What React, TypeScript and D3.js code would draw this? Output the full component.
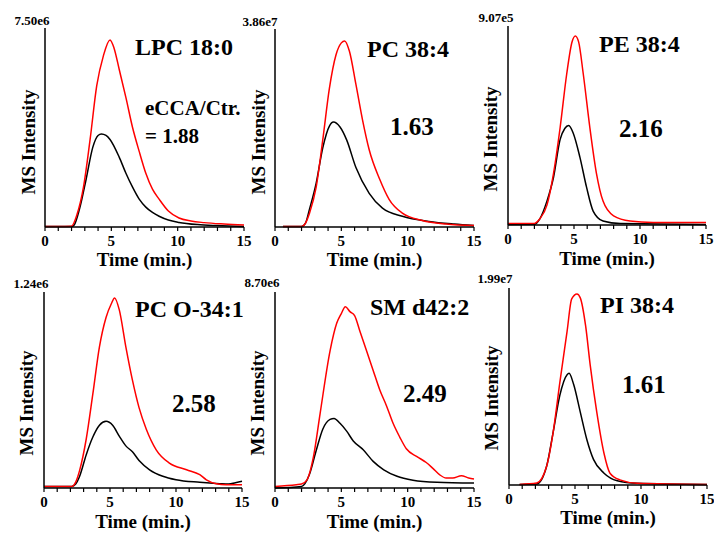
import React from "react";
import * as d3 from "d3";

// Each chromatogram: [time (min), intensity as % of the panel's full-scale value]
const titles = ["LPC 18:0", "PC 38:4", "PE 38:4", "PC O-34:1", "SM d42:2", "PI 38:4"];
const ratios = ["1.88", "1.63", "2.16", "2.58", "2.49", "1.61"];
const fullScale = ["7.50e6", "3.86e7", "9.07e5", "1.24e6", "8.70e6", "1.99e7"];
const xTicks = [0, 5, 10, 15];
const minorTicks = d3.range(0, 16);

const eccaLPC = [[0,0.3],[1,0.3],[2,0.4],[2.4,6],[2.9,20],[3.4,44],[3.9,71],[4.4,86],[4.9,94],[5.2,90],[5.6,79],[6.1,65],[6.6,50],[7.1,38],[7.6,27],[8.1,19],[8.6,14],[9.3,8],[10.1,4.5],[11,3],[12,2.2],[13.5,1.5],[15,1.0]];
const ctrLPC = [[0,0.2],[2,0.2],[2.2,1],[2.6,9],[3.1,24],[3.6,40],[4.0,46],[4.25,46.7],[4.6,46],[4.9,44],[5.6,35],[6.1,27],[6.6,20],[7.1,14],[7.6,10],[8.1,7.3],[8.6,5.4],[9.3,3.5],[10.1,2.3],[11.5,1.2],[13,0.7],[15,0.3]];

const eccaPC384 = [[0.6,0.3],[2,0.3],[2.3,2],[2.6,7],[3.1,20],[3.6,44],[4.1,70],[4.6,87],[5.0,93],[5.25,94],[5.6,89],[6.1,72],[6.6,54],[7.1,39],[7.9,24],[8.6,14],[9.6,7],[11.1,3.3],[12.9,1.5],[15,0.7]];
const ctrPC384 = [[0.6,0.2],[2,0.3],[2.3,2],[2.6,9],[3.1,22],[3.6,40],[4.1,51],[4.4,53],[4.9,50.5],[5.4,44],[6.1,30],[7.1,17],[8.1,9.5],[9.6,5.4],[11.6,2.8],[13.5,1.5],[15,0.8]];

const eccaPE = [[0,0.7],[2,0.8],[2.4,3],[2.95,10],[3.45,26],[3.95,49],[4.45,76],[4.85,92],[5.1,95],[5.35,92],[5.7,76],[6.2,49],[6.7,26],[7.2,12],[8,4.6],[9.25,2],[11,1.3],[15,1.2]];
const ctrPE = [[0,0.3],[2,0.4],[2.4,3],[2.95,12],[3.45,24],[3.95,43],[4.3,48.5],[4.6,50],[4.95,46],[5.45,34],[5.95,19],[6.45,7],[7.2,2],[8.5,0.7],[15,0.3]];

const eccaPCO = [[0,0.8],[2.1,0.8],[2.4,3],[2.7,9],[3.2,25],[3.7,48],[4.2,72],[4.7,87],[5.1,94],[5.35,97],[5.7,91],[6.2,72],[6.7,55],[7.2,41],[7.75,30],[8.5,19.5],[9.5,12.7],[10.8,9.3],[11.8,6.8],[12.3,4.2],[13.05,2.2],[13.8,1.7],[15,1.7]];
const ctrPCO = [[0,0.8],[2.1,0.8],[2.4,2],[2.7,6],[3.2,17],[3.7,26],[4.2,32],[4.7,34],[5.2,32],[5.7,26.5],[6.2,21.5],[6.7,18.5],[7.2,14],[8,9.3],[9,6],[10,4.2],[11.8,2.9],[13.3,2.2],[14,2.0],[14.5,2.7],[15,3.4]];

const eccaSM = [[0,0.8],[1.6,1.7],[2,2],[2.4,4],[2.9,16],[3.4,38],[4.15,70],[4.65,84],[5.0,89],[5.3,92.5],[5.65,90],[6.0,88],[6.4,80],[6.9,70],[7.4,60],[7.9,50],[8.4,42],[8.9,33],[9.4,26],[9.9,20],[10.7,16],[11.4,13],[11.9,10],[12.4,6.8],[12.9,5.1],[13.4,5.1],[14.05,6.3],[14.6,5.1],[15,4.6]];
const ctrSM = [[0,0],[2,0.8],[2.6,7],[3.1,19],[3.6,30],[4.15,35],[4.45,35.5],[4.9,33],[5.4,29],[5.9,24],[6.65,19.5],[7.4,13.6],[8.2,9.3],[9.2,6],[10.4,4],[12.2,2.9],[15,2.5]];

const eccaPI = [[0.8,0.3],[2.1,1],[2.85,9.5],[3.35,27],[3.85,52],[4.4,78],[4.75,94.5],[5.15,97],[5.4,95],[5.8,81],[6.15,61],[6.65,37],[7.2,16],[7.65,6],[8.4,2.6],[9.7,0.9],[15,0.3]];
const ctrPI = [[0.8,0.3],[2.1,0.5],[2.85,9.5],[3.35,27],[3.85,45.5],[4.4,56],[4.55,56.7],[4.9,51],[5.4,37],[5.9,23],[6.4,13],[7.2,6],[8.2,2.2],[9.7,0.9],[15,0.3]];

const eccaSeries = [eccaLPC, eccaPC384, eccaPE, eccaPCO, eccaSM, eccaPI];
const ctrSeries = [ctrLPC, ctrPC384, ctrPE, ctrPCO, ctrSM, ctrPI];

// layout (pixels)
const layout = [
  { l: 45, r: 244, t: 28, b: 227, titleDx: 90, titleY: 55, ratioDx: 100, ratioY: 143, yLabX: 35, yLabY: 142, maxDx: -13, maxY: 25, timeY: 266 },
  { l: 275, r: 474, t: 29, b: 227, titleDx: 92, titleY: 57, ratioDx: 115, ratioY: 135, yLabX: 265, yLabY: 142, maxDx: -15, maxY: 26, timeY: 266 },
  { l: 508, r: 706, t: 26, b: 225, titleDx: 91, titleY: 52, ratioDx: 111, ratioY: 137, yLabX: 497, yLabY: 139, maxDx: -12, maxY: 22, timeY: 265 },
  { l: 44, r: 242, t: 292, b: 488, titleDx: 91, titleY: 317, ratioDx: 128, ratioY: 412, yLabX: 33, yLabY: 403, maxDx: -13, maxY: 288, timeY: 528 },
  { l: 275, r: 474, t: 292, b: 488, titleDx: 95, titleY: 315, ratioDx: 128, ratioY: 402, yLabX: 264, yLabY: 403, maxDx: -13, maxY: 287, timeY: 528 },
  { l: 509, r: 707, t: 288, b: 485, titleDx: 91, titleY: 313, ratioDx: 113, ratioY: 393, yLabX: 498, yLabY: 398, maxDx: -14, maxY: 283, timeY: 524 },
];

const FONT = "'Liberation Serif', 'Times New Roman', serif";

function Panel({ i }: { i: number }) {
  const L = layout[i];
  const x = d3.scaleLinear().domain([0, 15]).range([L.l, L.r]);
  const y = d3.scaleLinear().domain([0, 100]).range([L.b, L.t]);
  const line = d3
    .line<number[]>()
    .x((d) => x(d[0]))
    .y((d) => y(d[1]))
    .curve(d3.curveMonotoneX);
  const cx = (L.l + L.r) / 2;
  return (
    <g fontFamily={FONT} fontWeight="bold" fill="#000">
      <path d={line(ctrSeries[i]) || ""} fill="none" stroke="#000" strokeWidth={1.5} />
      <path d={line(eccaSeries[i]) || ""} fill="none" stroke="#ff0000" strokeWidth={1.5} />
      <line x1={L.l} x2={L.l} y1={L.t} y2={L.b} stroke="#000" strokeWidth={1.5} />
      <line x1={L.l} x2={L.r} y1={L.b} y2={L.b} stroke="#000" strokeWidth={1.5} />
      {minorTicks.map((t) => (
        <line key={t} x1={x(t)} x2={x(t)} y1={L.b} y2={L.b + 4} stroke="#000" strokeWidth={1.2} />
      ))}
      {xTicks.map((t) => (
        <text key={t} x={x(t)} y={L.b + 19} fontSize={15} textAnchor="middle">
          {t}
        </text>
      ))}
      <text x={cx} y={L.timeY} fontSize={19} textAnchor="middle">
        Time (min.)
      </text>
      <text
        transform={`translate(${L.yLabX},${L.yLabY}) rotate(-90)`}
        fontSize={19}
        textAnchor="middle"
      >
        MS Intensity
      </text>
      <text x={L.l + L.maxDx} y={L.maxY} fontSize={13} textAnchor="middle">
        {fullScale[i]}
      </text>
      <text x={L.l + L.titleDx} y={L.titleY} fontSize={24}>
        {titles[i]}
      </text>
      {i === 0 ? (
        <g fontSize={21}>
          <text x={L.l + L.ratioDx} y={115}>eCCA/Ctr.</text>
          <text x={L.l + L.ratioDx} y={L.ratioY}>{"= " + ratios[i]}</text>
        </g>
      ) : (
        <text x={L.l + L.ratioDx} y={L.ratioY} fontSize={25}>
          {ratios[i]}
        </text>
      )}
    </g>
  );
}

export default function App() {
  return (
    <svg
      width={714}
      height={534}
      style={{ position: "absolute", left: 0, top: 0, background: "#fff" }}
    >
      <rect width={714} height={534} fill="#fff" />
      {titles.map((_, i) => (
        <Panel key={i} i={i} />
      ))}
    </svg>
  );
}
